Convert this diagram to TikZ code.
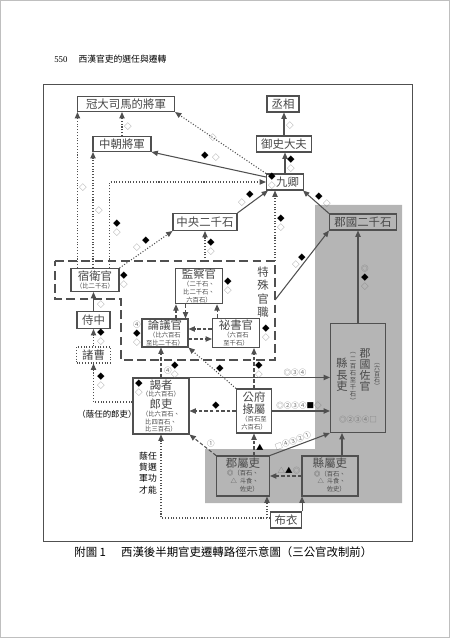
\documentclass[tikz,border=0pt]{standalone}
\usepackage{fontspec}
\setmainfont{Noto Sans CJK TC}
\newfontfamily\numfont{Liberation Serif}
\usetikzlibrary{arrows.meta}
\definecolor{lc}{HTML}{505050}
\definecolor{tc}{HTML}{484848}
\definecolor{gy}{HTML}{B5B5B5}
\definecolor{mkc}{HTML}{7A7A7A}
\def\mkb{◆}
\def\mkw{\textcolor{mkc}{◇}}
\def\mkd{\textcolor{mkc}{◎}}
\def\lbl#1{{\fontsize{6.5}{7}\selectfont #1}}

\begin{document}
\begin{tikzpicture}[x=0.02cm,y=-0.02cm]
  \tikzset{
    ofc/.style={draw=lc,line width=0.6pt,fill=white,text=tc,inner sep=0.6pt,align=center,font=\fontsize{3.6}{4.4}\selectfont},
    gofc/.style={ofc,fill=gy},
    big/.style={font=\fontsize{6.5}{7}\selectfont},
    vtxt/.style={inner sep=0pt,align=center,text=tc},
    mk/.style={inner sep=0pt,align=center,font=\fontsize{4.3}{4}\selectfont},
    solline/.style={draw=lc,line width=0.6pt,-{Triangle[length=3.6pt,width=3pt]}},
    dotline/.style={solline,densely dotted},
    dshline/.style={solline,dash pattern=on 2pt off 1.2pt},
  }
  \useasboundingbox (0,0) rectangle (450,638);
  \draw[gray!50,line width=0.4pt] (0.5,0.5) rectangle (449.5,637.5);
  \node[anchor=west,inner sep=0pt,font=\fontsize{5}{6}\selectfont] (head) at (54,59) {{\numfont 550}\hspace{2.2mm}西漢官吏的選任與遷轉};
  \draw[lc,line width=0.5pt] (43,84) rectangle (412,541);
  % gray area and special posts
  \fill[gy] (315,205) -- (402,205) -- (402,503) -- (205,503) -- (205,449) -- (315,449) -- cycle;
  \draw[lc,line width=0.8pt,dash pattern=on 5pt off 2.5pt] (55,261) -- (275,261) -- (275,360) -- (121,360) -- (121,299) -- (55,299) -- cycle;
  \coordinate (spec-a) at (205,261);
  \coordinate (spec-b) at (275,261);
  \coordinate (spec-c) at (275,300);
  \node[vtxt,font=\fontsize{6.5}{7.6}\selectfont] (tsgz) at (263,292) {特\\殊\\官\\職};

  % offices
  \node[ofc,big,minimum width=19.4mm,minimum height=3mm] (kan) at (126,104) {冠大司馬的將軍};
  \node[ofc,big,minimum width=11.6mm,minimum height=3mm] (zhongchao) at (122,144) {中朝將軍};
  \node[ofc,big,minimum width=6.4mm,minimum height=3.2mm] (chengxiang) at (283,104) {丞相};
  \node[ofc,big,minimum width=11mm,minimum height=3.2mm] (yushi) at (284,144) {御史大夫};
  \node[ofc,big,minimum width=7.4mm,minimum height=3.2mm] (jiuqing) at (285,182) {\hspace{1mm}九卿};
  \node[ofc,big,minimum width=12.8mm,minimum height=3.4mm] (zhongyang) at (205,222) {中央二千石};
  \node[gofc,big,minimum width=13.4mm,minimum height=3.2mm] (junguo) at (363,222) {郡國二千石};
  \node[ofc,minimum width=9.6mm,minimum height=4.6mm] (suwei) at (95,280) {\lbl{宿衛官}\\（比二千石）};
  \node[ofc,minimum width=9.4mm,minimum height=6.8mm] (jiancha) at (199,286) {\lbl{監察官}\\（二千石、\\比二千石、\\六百石）};
  \node[ofc,minimum width=9.2mm,minimum height=5.6mm] (lunyi) at (165,333) {\lbl{論議官}\\（比六百石\\至比二千石）};
  \node[ofc,minimum width=9.4mm,minimum height=5.8mm] (mishu) at (236,333) {\lbl{祕書官}\\（六百石\\至千石）};
  \node[ofc,big,minimum width=6.6mm,minimum height=3.4mm] (shizhong) at (93.5,320) {侍中};
  \node[ofc,big,densely dotted,minimum width=6.8mm,minimum height=3.2mm] (zhucao) at (93.5,355) {諸曹};
  \node[ofc,minimum width=11.2mm,minimum height=11.2mm] (yezhe) at (161,406) {\lbl{謁者}\\（比六百石）\\\lbl{郎吏}\\（比六百石、\\比四百石、\\比三百石）};
  \node[ofc,minimum width=7mm,minimum height=8.8mm] (gongfu) at (254,411) {\lbl{公府}\\\lbl{掾屬}\\（百石至\\六百石）};
  \node[gofc,minimum width=11mm,minimum height=21.8mm] (zuoguan) at (358,378) {};
  \node[vtxt,font=\fontsize{3.4}{3.4}\selectfont] (zuoguan-a) at (377,376) {︵\\六\\百\\石\\︶};
  \node[vtxt,font=\fontsize{6.2}{6.3}\selectfont] (zuoguan-b) at (365,370) {郡\\國\\佐\\官};
  \node[vtxt,font=\fontsize{3.6}{4}\selectfont] (zuoguan-c) at (353,378) {︵\\二\\百\\石\\至\\千\\石\\︶};
  \node[vtxt,font=\fontsize{6.4}{6.6}\selectfont] (zuoguan-d) at (342,375) {縣\\長\\吏};
  \node[gofc,minimum width=10.6mm,minimum height=8mm] (junshu) at (243,476) {\lbl{郡屬吏}\\\begin{tabular}{@{}r@{}}◎（百石、\\△\ \ 斗食、\\佐史）\end{tabular}};
  \node[gofc,minimum width=11.2mm,minimum height=8mm] (xianshu) at (330,476) {\lbl{縣屬吏}\\\begin{tabular}{@{}r@{}}◎（百石、\\△\ \ 斗食、\\佐史）\end{tabular}};
  \node[ofc,big,minimum width=6.2mm,minimum height=3.2mm] (buyi) at (286,520) {布衣};

  % routes upward
  \draw[dotline] (zhongchao.north) -- (zhongchao.north |- kan.south);
  \draw[dotline] (jiuqing.north west) -- (kan.south east);
  \draw[solline] ([yshift=1mm]jiuqing.west) -- (zhongchao.south east);
  \draw[solline] (yushi.north) -- (yushi.north |- chengxiang.south);
  \draw[solline] (jiuqing.north) -- (jiuqing.north |- yushi.south);
  \coordinate (s1) at ([xshift=1.4mm]suwei.north west);
  \coordinate (s2) at ([xshift=-0.4mm]suwei.north);
  \coordinate (s3) at ([xshift=-2mm]suwei.north east);
  \draw[dotline] (s1) -- (s1 |- kan.south);
  \draw[dotline] (s2) -- (s2 |- zhongchao.south);
  \draw[dotline] (s3) -- (s3 |- jiuqing.west) -- (jiuqing.west);
  \draw[dotline] (suwei.north east) -- (zhongyang.south west);
  \draw[dotline] (spec-a) -- (spec-a |- zhongyang.south);
  \draw[solline] (zhongyang.north east) -- ([xshift=0.4mm]jiuqing.south west);
  \draw[dotline] (spec-b) -- (spec-b |- jiuqing.south);
  \draw[solline] (junguo.north west) -- ([xshift=-0.2mm]jiuqing.south east);
  \draw[solline] (spec-c) -- (junguo.south west);
  \draw[solline] (zuoguan.north) -- (zuoguan.north |- junguo.south);
  % palace posts
  \draw[solline] (shizhong.north) -- (suwei.south -| shizhong.north);
  \draw[dotline] (zhucao.north) -- (zhucao.north |- shizhong.south);
  \draw[dotline] ([yshift=0.8mm]yezhe.west) -| (zhucao.south);
  \draw[dshline] (yezhe.north) -- (yezhe.north |- lunyi.south);
  \coordinate (l1) at ([xshift=0.2mm]jiancha.south west);
  \coordinate (l2) at ([xshift=-0.6mm]lunyi.north east);
  \coordinate (l3) at ([xshift=-1.2mm]jiancha.south east);
  \draw[dshline] (l1 |- lunyi.north) -- (l1);
  \draw[dshline] (l2 |- jiancha.south) -- (l2);
  \draw[dshline] (l3 |- mishu.north) -- (l3);
  \draw[dshline] ([yshift=0.8mm]mishu.west) -- ([yshift=0.8mm]mishu.west -| lunyi.east);
  \draw[dshline] ([yshift=-1.2mm]lunyi.east) -- ([yshift=-1.2mm]lunyi.east -| mishu.west);
  \draw[dotline] (gongfu.north west) -- (lunyi.south east);
  \draw[dshline] (gongfu.north) -- (gongfu.north |- mishu.south);
  \draw[dshline] (gongfu.west) -- (gongfu.west -| yezhe.east);
  \draw[solline] (yezhe.north east) -- (yezhe.north east -| zuoguan.west);
  \draw[solline] (gongfu.east) -- (gongfu.east -| zuoguan.west);
  % local clerks
  \draw[solline] (junshu.north east) -- (zuoguan.south west);
  \draw[dshline] (junshu.north west) -- (yezhe.south east);
  \draw[dshline] (gongfu.south |- junshu.north) -- (gongfu.south);
  \draw[dshline] (xianshu.west) -- (junshu.east);
  \coordinate (x1) at ([xshift=2.4mm]xianshu.north);
  \draw[solline] (x1) -- (x1 |- zuoguan.south);
  \draw[solline] (buyi.north east) -- (buyi.north east |- xianshu.south);
  \draw[dotline] ([yshift=0.4mm]buyi.west) -| (yezhe.south);
  \coordinate (b1) at ([xshift=-0.6mm,yshift=0.4mm]buyi.west);
  \draw[dotline] (b1) -- (b1 |- junshu.south);

  % route marks
  \foreach \x/\y/\t [count=\i] in {128/127/\mkw, 213/138/\mkw, 205/156/\mkb, 216/158/\mkw,
      290/126/\mkw, 291/164.5/{\mkb\\\mkw}, 272/181.5/{\mkb\\\mkw}, 83/188/\mkw, 99/211/\mkw,
      117/228.5/{\mkb\\\mkw}, 137/248/\mkw, 146/241/\mkb, 211/247/{\mkb\\\mkw},
      250/195/\mkb, 242/203/\mkw, 281/223.5/{\mkb\\\mkw}, 319/197/\mkb, 327/204/\mkw,
      302/258/\mkb, 296/265/\mkw, 365/278/{\mkd\\\mkb\\\mkw}, 124/280.5/{\mkb\\\mkw},
      228/286.5/{\mkb\\\mkw}, 266/333.5/{\mkb\\\mkw}, 101/305/\mkw, 101/337.5/{\mkb\\\mkw},
      137/334/{\textcolor{mkc}{④}\\\mkb\\\mkw}, 101/381/{\mkb\\\mkw}, 168/371/\textcolor{mkc}{④},
      175/370.5/{\mkb\\\mkw}, 220/369/\mkb, 259/370.5/{\mkb\\\mkw}, 139/388.5/{\mkb\\\mkw},
      216/406/\mkb, 295/373/\textcolor{mkc}{◎③④}, 299/406/{\textcolor{mkc}{◎②③④}■\mkw},
      211/444/\textcolor{mkc}{①}, 260/447/▲, 289/471/{\textcolor{mkc}{△}▲\mkd},
      358/420/\textcolor{mkc}{◎②③④□}}
    \node[mk] (mk\i) at (\x,\y) {\t};
  \node[mk,rotate=21] (mk-jz) at (293,441) {\textcolor{mkc}{□④③②①}};

  % side notes and caption
  \node[inner sep=0pt,font=\fontsize{4.8}{5}\selectfont] (yinren) at (107,414) {（蔭任的郎吏）};
  \node[inner sep=0pt,align=center,font=\fontsize{5}{6.4}\selectfont] (tujing) at (148,473) {蔭任\\貲選\\軍功\\才能};
  \node[anchor=west,inner sep=0pt,font=\fontsize{6.5}{7}\selectfont] (caption) at (74,552) {附圖 1\hspace{3mm}西漢後半期官吏遷轉路徑示意圖（三公官改制前）};
\end{tikzpicture}
\end{document}
